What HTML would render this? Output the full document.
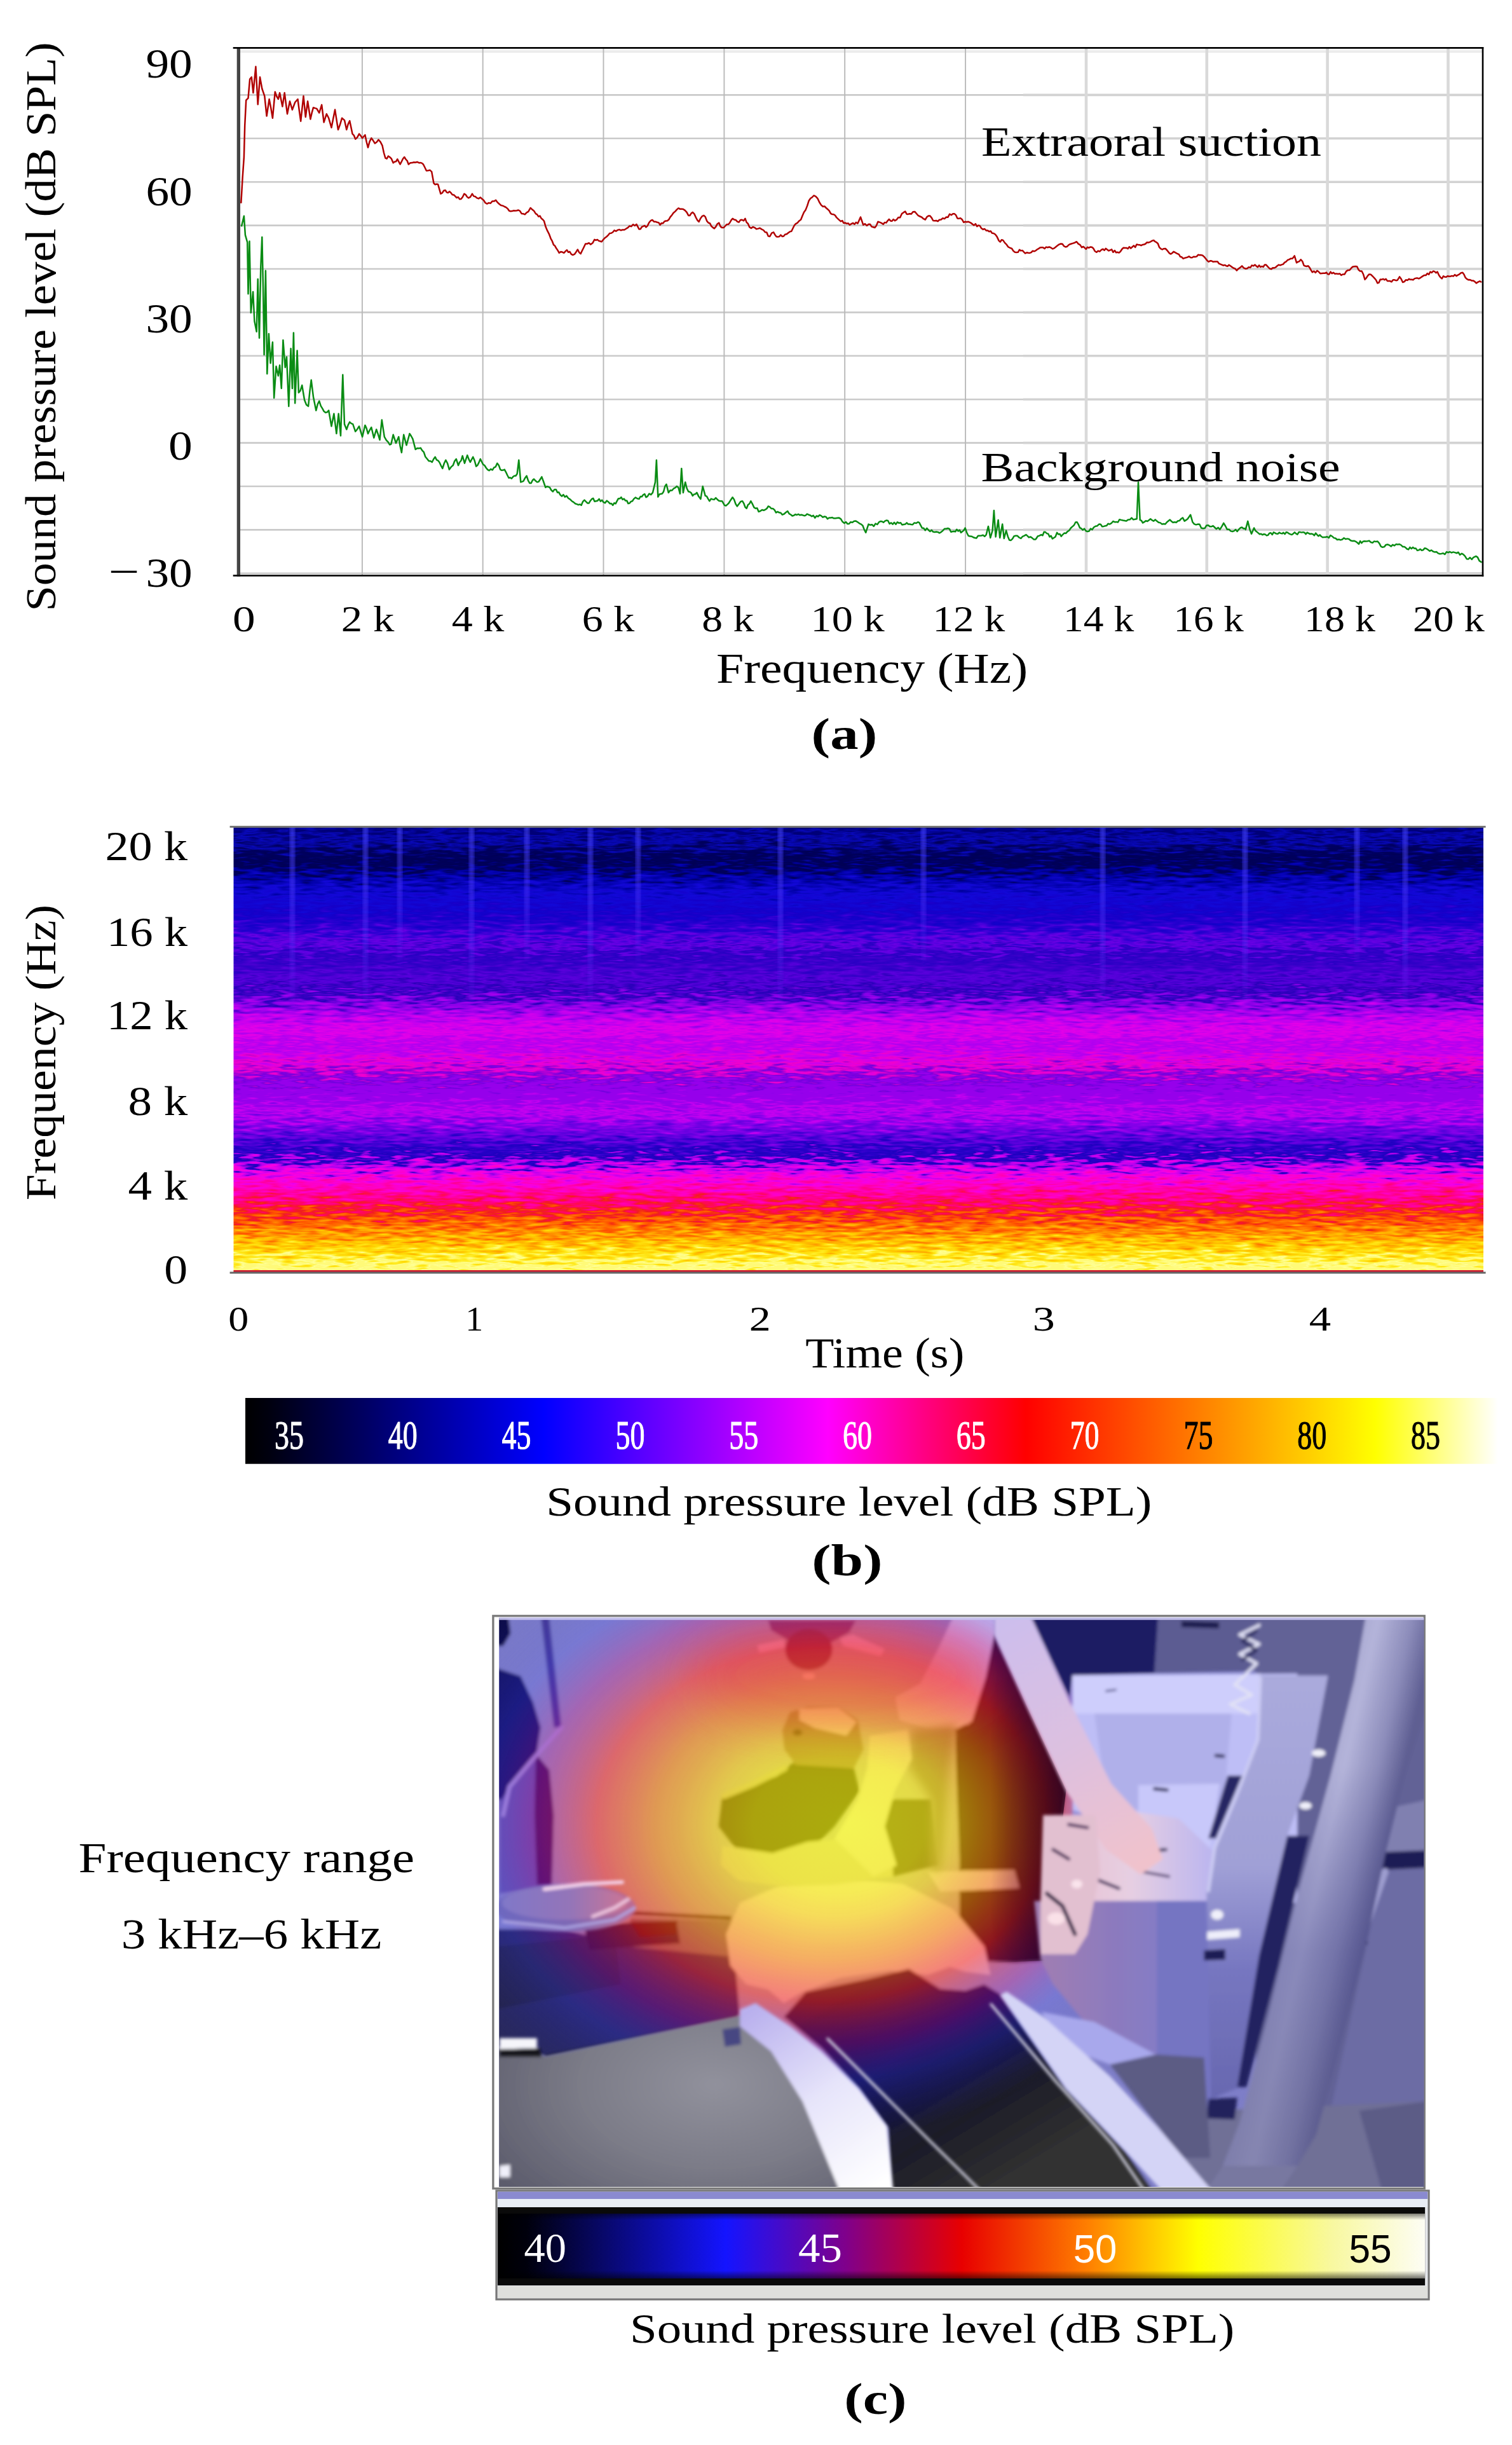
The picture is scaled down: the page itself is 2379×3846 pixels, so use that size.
<!DOCTYPE html>
<html lang="en"><head><meta charset="utf-8"><title>Figure</title>
<style>html,body{margin:0;padding:0;background:#fff}svg{display:block}</style></head>
<body>
<svg width="2379" height="3846" viewBox="0 0 2379 3846">
<rect width="100%" height="100%" fill="#fff"/>
<defs>
<linearGradient id="sg" gradientUnits="userSpaceOnUse" x1="0" y1="1200" x2="0" y2="2100">
<stop offset="0" stop-color="rgb(0,0,120)"/>
<stop offset="0.1115" stop-color="rgb(0, 0, 120)"/>
<stop offset="0.1327" stop-color="rgb(8, 8, 185)"/>
<stop offset="0.1589" stop-color="rgb(0, 0, 95)"/>
<stop offset="0.1785" stop-color="rgb(0, 0, 85)"/>
<stop offset="0.1982" stop-color="rgb(0, 0, 165)"/>
<stop offset="0.2309" stop-color="rgb(18, 8, 215)"/>
<stop offset="0.2636" stop-color="rgb(20, 0, 200)"/>
<stop offset="0.2898" stop-color="rgb(45, 0, 210)"/>
<stop offset="0.3159" stop-color="rgb(105, 0, 228)"/>
<stop offset="0.3356" stop-color="rgb(40, 0, 195)"/>
<stop offset="0.3617" stop-color="rgb(65, 0, 205)"/>
<stop offset="0.3781" stop-color="rgb(90, 0, 220)"/>
<stop offset="0.4010" stop-color="rgb(40, 0, 185)"/>
<stop offset="0.4206" stop-color="rgb(130, 0, 230)"/>
<stop offset="0.4468" stop-color="rgb(190, 0, 240)"/>
<stop offset="0.4697" stop-color="rgb(228, 0, 232)"/>
<stop offset="0.4926" stop-color="rgb(175, 0, 240)"/>
<stop offset="0.5122" stop-color="rgb(210, 0, 235)"/>
<stop offset="0.5286" stop-color="rgb(240, 0, 205)"/>
<stop offset="0.5515" stop-color="rgb(115, 0, 222)"/>
<stop offset="0.5646" stop-color="rgb(150, 0, 235)"/>
<stop offset="0.5908" stop-color="rgb(150, 0, 235)"/>
<stop offset="0.6104" stop-color="rgb(200, 0, 240)"/>
<stop offset="0.6300" stop-color="rgb(140, 0, 235)"/>
<stop offset="0.6562" stop-color="rgb(90, 0, 220)"/>
<stop offset="0.6758" stop-color="rgb(40, 0, 200)"/>
<stop offset="0.6889" stop-color="rgb(30, 0, 190)"/>
<stop offset="0.7020" stop-color="rgb(180, 0, 240)"/>
<stop offset="0.7216" stop-color="rgb(245, 0, 230)"/>
<stop offset="0.7413" stop-color="rgb(255, 0, 190)"/>
<stop offset="0.7609" stop-color="rgb(255, 0, 140)"/>
<stop offset="0.7740" stop-color="rgb(255, 10, 80)"/>
<stop offset="0.7838" stop-color="rgb(240, 30, 30)"/>
<stop offset="0.7969" stop-color="rgb(255, 80, 0)"/>
<stop offset="0.8133" stop-color="rgb(255, 120, 0)"/>
<stop offset="0.8296" stop-color="rgb(255, 170, 0)"/>
<stop offset="0.8460" stop-color="rgb(255, 210, 0)"/>
<stop offset="0.8623" stop-color="rgb(255, 235, 30)"/>
<stop offset="0.8787" stop-color="rgb(255, 255, 150)"/>
<stop offset="0.8852" stop-color="rgb(255, 250, 120)"/>
<stop offset="1" stop-color="rgb(255,250,120)"/>
</linearGradient>
<filter id="sn" x="0" y="0" width="100%" height="100%" filterUnits="objectBoundingBox" color-interpolation-filters="sRGB">
<feTurbulence type="fractalNoise" baseFrequency="0.034 0.21" numOctaves="2" seed="7" result="t"/>
<feDisplacementMap in="SourceGraphic" in2="t" scale="85" xChannelSelector="G" yChannelSelector="R"/>
</filter>
<clipPath id="sc"><rect x="367.5" y="1301.5" width="1966.5" height="699.5"/></clipPath>
<linearGradient id="vs" x1="0" y1="0" x2="0" y2="1"><stop offset="0" stop-color="#4a4aff" stop-opacity="0.6"/><stop offset="0.55" stop-color="#5a3cff" stop-opacity="0.38"/><stop offset="1" stop-color="#7a30ff" stop-opacity="0"/></linearGradient>
<filter id="b2"><feGaussianBlur stdDeviation="2.5 0.1"/></filter>
<linearGradient id="cb" x1="0" y1="0" x2="1" y2="0"><stop offset="0" stop-color="#000"/><stop offset="0.02" stop-color="#000010"/><stop offset="0.238" stop-color="#0000ff"/><stop offset="0.465" stop-color="#ff00ff"/><stop offset="0.623" stop-color="#ff0000"/><stop offset="0.902" stop-color="#ffff00"/><stop offset="1" stop-color="#fff"/></linearGradient>
</defs>
<line x1="378" y1="81.0" x2="2332" y2="81.0" stroke="#ececec" stroke-width="4"/>
<line x1="378" y1="149.4" x2="1610" y2="149.4" stroke="#cacaca" stroke-width="2.6"/>
<line x1="1610" y1="149.4" x2="2332" y2="149.4" stroke="#d2d2d2" stroke-width="3.6"/>
<line x1="378" y1="217.8" x2="1610" y2="217.8" stroke="#cacaca" stroke-width="2.6"/>
<line x1="1610" y1="217.8" x2="2332" y2="217.8" stroke="#d2d2d2" stroke-width="3.6"/>
<line x1="378" y1="286.2" x2="1610" y2="286.2" stroke="#cacaca" stroke-width="2.6"/>
<line x1="1610" y1="286.2" x2="2332" y2="286.2" stroke="#d2d2d2" stroke-width="3.6"/>
<line x1="378" y1="354.6" x2="1610" y2="354.6" stroke="#cacaca" stroke-width="2.6"/>
<line x1="1610" y1="354.6" x2="2332" y2="354.6" stroke="#d2d2d2" stroke-width="3.6"/>
<line x1="378" y1="423.0" x2="1610" y2="423.0" stroke="#cacaca" stroke-width="2.6"/>
<line x1="1610" y1="423.0" x2="2332" y2="423.0" stroke="#d2d2d2" stroke-width="3.6"/>
<line x1="378" y1="491.4" x2="1610" y2="491.4" stroke="#cacaca" stroke-width="2.6"/>
<line x1="1610" y1="491.4" x2="2332" y2="491.4" stroke="#d2d2d2" stroke-width="3.6"/>
<line x1="378" y1="559.8" x2="1610" y2="559.8" stroke="#cacaca" stroke-width="2.6"/>
<line x1="1610" y1="559.8" x2="2332" y2="559.8" stroke="#d2d2d2" stroke-width="3.6"/>
<line x1="378" y1="628.2" x2="1610" y2="628.2" stroke="#cacaca" stroke-width="2.6"/>
<line x1="1610" y1="628.2" x2="2332" y2="628.2" stroke="#d2d2d2" stroke-width="3.6"/>
<line x1="378" y1="696.6" x2="1610" y2="696.6" stroke="#cacaca" stroke-width="2.6"/>
<line x1="1610" y1="696.6" x2="2332" y2="696.6" stroke="#d2d2d2" stroke-width="3.6"/>
<line x1="378" y1="765.0" x2="1610" y2="765.0" stroke="#cacaca" stroke-width="2.6"/>
<line x1="1610" y1="765.0" x2="2332" y2="765.0" stroke="#d2d2d2" stroke-width="3.6"/>
<line x1="378" y1="833.4" x2="1610" y2="833.4" stroke="#cacaca" stroke-width="2.6"/>
<line x1="1610" y1="833.4" x2="2332" y2="833.4" stroke="#d2d2d2" stroke-width="3.6"/>
<line x1="378" y1="901.8" x2="1610" y2="901.8" stroke="#cacaca" stroke-width="2.6"/>
<line x1="1610" y1="901.8" x2="2332" y2="901.8" stroke="#d2d2d2" stroke-width="3.6"/>
<line x1="569.9" y1="76" x2="569.9" y2="905" stroke="#b9b9b9" stroke-width="1.9"/>
<line x1="759.7" y1="76" x2="759.7" y2="905" stroke="#b9b9b9" stroke-width="1.9"/>
<line x1="949.5" y1="76" x2="949.5" y2="905" stroke="#b9b9b9" stroke-width="1.9"/>
<line x1="1139.4" y1="76" x2="1139.4" y2="905" stroke="#b9b9b9" stroke-width="1.9"/>
<line x1="1329.2" y1="76" x2="1329.2" y2="905" stroke="#b9b9b9" stroke-width="1.9"/>
<line x1="1519.1" y1="76" x2="1519.1" y2="905" stroke="#b9b9b9" stroke-width="1.9"/>
<line x1="1709.0" y1="76" x2="1709.0" y2="905" stroke="#d9d9d9" stroke-width="4.6"/>
<line x1="1898.8" y1="76" x2="1898.8" y2="905" stroke="#d9d9d9" stroke-width="4.6"/>
<line x1="2088.6" y1="76" x2="2088.6" y2="905" stroke="#d9d9d9" stroke-width="4.6"/>
<line x1="2278.5" y1="76" x2="2278.5" y2="905" stroke="#d9d9d9" stroke-width="4.6"/>
<path d="M379.9,356.4 383.9,339.8 385.9,369.6 389.2,381.2 390.5,462.2 392.5,379.5 394.8,492.0 398.1,458.9 400.4,505.2 403.7,521.7 405.7,439.0 408.0,531.6 410.3,419.2 412.3,372.9 414.0,452.3 415.6,558.1 417.9,425.8 420.3,587.9 422.9,525.0 425.6,571.3 428.9,538.3 431.2,625.9 434.5,576.3 437.8,591.2 440.1,574.6 442.8,611.0 445.4,534.9 448.7,577.9 451.0,561.4 454.3,639.1 457.6,548.2 459.9,611.0 461.9,523.4 464.2,634.2 467.6,551.5 469.9,617.6 472.5,614.6 475.2,606.0 479.1,629.2 482.1,636.8 485.1,639.1 487.4,615.8 489.7,597.8 493.0,624.2 497.3,645.7 499.8,635.8 502.3,630.8 504.8,638.6 507.2,642.4 509.7,647.1 512.2,649.0 514.7,648.4 517.2,645.7 521.5,670.5 525.4,650.7 529.4,682.1 532.7,650.7 536.0,685.4 539.3,589.5 542.0,667.2 545.3,675.5 547.7,668.6 550.2,663.9 552.7,666.2 555.2,667.2 559.2,678.8 562.1,675.2 565.1,670.5 567.6,679.2 570.1,687.1 574.4,668.9 576.7,673.8 579.0,682.1 581.6,676.8 584.3,672.2 588.3,688.7 592.2,675.5 594.9,683.2 597.5,692.0 600.8,660.6 604.8,687.1 607.8,692.3 610.7,695.3 613.1,699.5 615.4,698.6 618.7,683.8 623.0,697.0 627.3,687.1 629.6,701.7 631.9,711.9 635.2,683.8 639.5,700.3 642.0,691.4 644.5,682.1 647.0,686.0 649.4,690.4 653.7,706.9 656.5,704.9 659.4,705.3 661.8,704.6 664.3,708.6 666.8,711.2 669.3,718.5 672.0,721.7 674.8,725.3 677.3,725.3 679.8,727.0 682.2,722.3 684.7,718.7 686.9,723.4 689.1,724.4 691.3,727.0 693.8,732.3 696.3,736.9 698.8,729.0 701.3,723.7 704.1,728.8 706.9,738.6 709.9,734.4 712.8,732.0 715.3,725.2 717.8,722.0 721.1,732.0 723.3,727.0 725.5,724.5 727.7,717.1 731.0,728.7 735.3,716.1 737.6,722.4 739.9,727.0 744.2,718.7 746.7,724.6 749.2,733.6 751.4,731.7 753.6,727.4 755.8,722.0 758.0,726.5 760.2,730.7 762.4,732.0 764.9,736.0 767.3,738.9 769.7,740.2 772.2,737.8 774.8,739.3 777.3,735.3 779.8,734.3 782.3,728.7 784.8,731.9 787.2,738.6 789.4,739.8 791.6,739.6 793.8,738.6 796.1,742.8 798.3,747.5 800.5,751.8 802.7,751.2 804.9,752.8 807.1,750.1 809.3,748.5 811.5,748.5 813.7,745.2 816.3,723.7 819.3,758.4 823.6,756.8 826.1,751.9 828.6,748.5 831.1,756.2 833.5,760.1 835.7,759.9 837.9,755.5 840.1,753.5 842.6,756.3 845.1,758.4 847.5,757.8 850.0,754.0 852.4,750.1 855.4,758.3 858.3,766.7 860.5,765.3 862.7,765.8 864.9,766.7 867.4,771.0 869.9,773.3 872.4,770.0 874.9,770.0 877.1,774.8 879.3,774.3 881.5,778.3 884.0,780.7 886.4,778.1 888.9,781.8 891.4,779.9 894.2,783.7 896.9,785.4 899.7,788.2 902.4,789.9 905.2,792.2 907.9,793.1 910.1,794.1 912.3,793.3 914.6,794.8 917.0,789.2 919.5,786.5 922.0,789.1 924.5,791.5 926.7,791.4 928.9,787.7 931.1,784.9 933.3,783.8 935.5,788.7 937.7,788.2 940.2,787.7 942.7,784.9 944.9,788.6 947.1,786.6 949.3,789.8 952.0,791.1 954.8,787.6 957.5,789.8 959.7,792.2 961.9,792.0 964.2,794.8 966.4,791.2 968.6,792.3 970.8,788.2 973.0,784.2 975.2,784.3 977.4,782.2 979.6,785.8 981.8,784.5 984.0,787.5 986.2,787.4 988.4,792.1 990.6,791.5 992.8,788.9 995.0,788.2 997.2,784.9 1000.0,782.5 1002.7,784.2 1005.5,784.9 1007.7,781.0 1009.9,781.3 1012.1,778.3 1014.3,777.1 1016.5,782.3 1018.7,780.9 1021.5,776.5 1024.2,778.1 1027.0,774.9 1031.0,758.4 1032.9,723.7 1035.3,781.6 1037.5,777.5 1039.7,777.0 1041.9,776.6 1044.1,773.2 1046.3,765.0 1048.5,761.7 1051.8,774.9 1054.5,771.2 1057.3,771.5 1060.1,768.3 1062.5,767.2 1064.9,764.9 1067.3,766.7 1070.0,776.6 1072.3,736.9 1074.9,774.9 1078.2,758.4 1080.7,768.3 1083.2,773.3 1085.4,773.8 1087.6,775.4 1089.8,779.9 1092.0,777.5 1094.2,777.2 1096.4,774.9 1099.4,781.1 1102.4,784.9 1105.7,765.0 1109.7,779.9 1111.9,780.7 1114.1,784.6 1116.3,788.2 1118.8,784.6 1121.2,785.4 1123.7,785.8 1126.2,783.2 1128.7,785.7 1131.2,787.7 1133.6,788.2 1136.1,788.2 1140.0,794.8 1142.2,795.5 1144.4,793.6 1146.6,791.5 1149.6,786.7 1152.6,782.2 1155.0,785.6 1157.4,792.5 1159.8,796.4 1162.6,792.8 1165.4,788.9 1168.1,788.2 1170.3,791.8 1172.5,797.8 1174.7,799.7 1176.9,794.0 1179.1,792.5 1181.3,788.2 1183.8,792.6 1186.3,798.1 1188.8,799.7 1191.3,799.3 1193.7,804.9 1196.2,804.0 1199.0,802.0 1201.7,802.8 1204.5,801.4 1206.7,799.7 1208.9,796.3 1211.1,797.4 1213.6,800.0 1216.1,800.1 1218.5,801.9 1221.0,806.4 1223.5,804.9 1226.0,806.3 1228.5,806.8 1230.9,809.7 1233.7,808.5 1236.5,806.0 1239.2,804.0 1241.7,808.1 1244.2,809.5 1246.6,811.5 1249.1,810.7 1251.4,809.1 1253.8,810.0 1256.1,808.8 1258.4,810.3 1260.7,809.7 1263.0,810.3 1265.3,811.2 1267.6,810.7 1270.0,808.5 1272.3,809.7 1274.8,810.5 1277.2,812.3 1279.7,810.9 1282.2,814.6 1284.7,811.5 1287.2,812.5 1289.6,810.2 1292.1,811.3 1294.6,813.7 1297.1,812.5 1299.6,813.0 1302.0,816.3 1304.5,814.4 1307.0,814.4 1309.5,814.1 1312.0,815.3 1314.7,815.2 1317.5,814.7 1320.2,814.6 1323.0,816.4 1325.7,820.8 1328.5,822.9 1331.0,821.0 1333.5,824.1 1335.9,824.0 1338.4,821.2 1341.2,821.8 1343.9,819.8 1346.7,819.6 1349.4,821.3 1352.2,823.3 1354.9,824.6 1357.4,826.7 1359.8,833.0 1362.2,837.8 1366.5,824.6 1369.3,825.8 1372.0,825.2 1374.8,827.9 1377.5,823.6 1380.3,825.0 1383.1,821.2 1385.4,820.0 1387.7,820.3 1390.0,821.8 1392.3,819.7 1394.6,818.6 1397.1,819.0 1399.6,824.0 1402.1,822.4 1404.6,824.6 1407.0,821.7 1409.5,824.7 1412.0,821.3 1414.5,822.9 1417.0,822.3 1419.4,825.4 1421.9,825.0 1424.4,824.6 1426.7,822.3 1429.0,824.6 1431.3,824.5 1433.7,825.0 1436.0,825.2 1438.7,822.4 1441.5,823.0 1444.2,821.2 1446.4,822.2 1448.6,826.3 1450.8,830.5 1453.3,830.7 1455.8,834.3 1458.3,830.9 1460.8,833.8 1463.2,835.9 1465.7,833.9 1468.2,836.6 1470.7,837.1 1473.2,836.6 1475.6,836.9 1478.1,838.4 1480.6,837.1 1483.4,834.8 1486.1,831.7 1488.9,831.8 1491.4,831.0 1493.8,831.9 1496.3,836.8 1498.8,836.1 1501.0,835.7 1503.2,836.2 1505.4,832.8 1507.6,835.4 1509.8,833.7 1512.0,837.8 1514.2,836.1 1516.4,834.3 1518.6,830.5 1521.1,837.7 1523.6,842.7 1526.1,843.6 1528.6,843.7 1531.0,845.0 1533.5,846.0 1536.3,846.4 1539.0,842.7 1541.8,842.7 1544.3,842.5 1546.7,841.8 1549.2,843.8 1551.7,841.1 1555.0,827.9 1558.3,846.0 1561.6,834.5 1563.9,803.1 1566.6,844.4 1570.6,817.9 1573.2,846.0 1577.2,824.6 1579.8,847.0 1583.1,834.5 1585.6,843.4 1588.1,849.4 1590.6,849.9 1593.0,847.7 1595.5,843.4 1598.0,842.7 1600.8,842.8 1603.5,845.5 1606.3,847.0 1609.0,843.8 1611.8,842.7 1614.5,841.1 1616.7,843.1 1618.9,845.4 1621.2,844.4 1623.9,846.1 1626.7,848.6 1629.4,848.4 1630.0,847.7 1632.8,843.5 1635.5,842.6 1638.3,841.1 1640.5,842.3 1642.7,836.7 1644.9,837.1 1647.1,839.1 1649.3,839.8 1651.5,844.4 1653.7,842.9 1655.9,847.5 1658.1,846.0 1660.6,844.4 1663.1,837.8 1665.3,840.5 1667.5,839.9 1669.7,843.7 1672.2,840.8 1674.6,838.6 1677.1,838.9 1679.6,836.1 1682.4,834.3 1685.1,830.3 1687.9,827.9 1690.1,825.8 1692.3,821.5 1694.5,821.2 1696.7,824.8 1698.9,830.1 1701.1,831.2 1703.6,833.7 1706.1,831.6 1708.5,835.0 1711.0,836.1 1713.5,835.5 1716.0,831.6 1718.5,833.1 1720.9,829.5 1723.7,827.7 1726.5,827.2 1729.2,824.6 1731.7,824.7 1734.2,828.3 1736.6,827.9 1739.1,827.2 1741.3,826.7 1743.5,823.7 1745.7,824.6 1748.5,823.2 1751.3,820.0 1754.0,821.2 1756.5,820.9 1759.0,821.5 1761.4,817.2 1763.9,817.9 1766.7,818.5 1769.4,819.0 1772.2,819.6 1775.0,817.5 1777.7,817.3 1780.5,814.6 1783.2,817.4 1786.0,816.8 1788.7,816.3 1791.0,758.4 1793.7,817.9 1795.9,818.9 1798.1,822.5 1800.3,821.2 1802.8,819.2 1805.3,820.0 1807.7,818.3 1810.2,816.3 1812.7,818.4 1815.2,819.7 1817.7,817.4 1820.1,819.6 1822.9,821.8 1825.7,822.4 1828.4,824.6 1830.9,824.1 1833.4,824.5 1835.9,821.5 1838.3,819.6 1840.8,817.6 1843.3,820.2 1845.8,821.9 1848.3,821.2 1850.7,821.9 1853.2,819.5 1855.7,819.1 1858.2,816.3 1860.9,814.4 1863.7,819.6 1866.4,817.9 1868.6,816.3 1870.9,813.0 1873.1,809.7 1876.4,821.2 1879.1,824.4 1881.9,825.4 1884.6,824.6 1887.4,824.8 1890.1,830.5 1892.9,831.2 1895.7,830.8 1898.4,826.4 1901.2,826.2 1903.6,828.3 1906.1,828.3 1908.6,827.1 1911.1,829.5 1913.8,832.1 1916.6,829.9 1919.4,832.8 1922.3,828.4 1925.3,822.9 1928.1,827.5 1930.9,832.8 1933.7,832.7 1936.4,835.4 1939.2,836.1 1941.7,835.1 1944.2,833.0 1946.6,836.0 1949.1,832.8 1951.6,830.3 1954.1,829.5 1956.6,831.5 1959.0,831.2 1959.8,833.1 1963.3,819.9 1966.5,833.1 1969.1,839.7 1973.1,830.5 1975.3,834.8 1977.5,836.6 1979.7,838.4 1981.9,840.3 1984.1,839.7 1986.3,841.3 1988.5,840.2 1990.7,840.6 1992.9,842.4 1995.1,841.7 1997.3,838.7 1999.5,838.3 2001.7,841.0 2003.9,837.4 2006.1,838.4 2008.3,839.6 2010.5,839.7 2012.8,837.7 2015.0,838.9 2017.2,839.4 2019.4,837.9 2021.6,840.2 2023.8,837.1 2026.0,837.8 2028.2,839.4 2030.4,840.4 2032.6,841.1 2034.8,839.4 2037.0,837.3 2039.2,839.4 2041.4,840.7 2043.6,837.1 2045.8,837.1 2048.0,837.6 2050.2,837.1 2052.4,837.7 2054.6,840.2 2056.8,837.7 2059.0,838.9 2061.3,840.0 2063.5,839.6 2065.7,840.2 2067.9,842.4 2070.1,838.6 2072.3,841.1 2074.5,843.3 2076.7,841.4 2078.9,843.8 2081.1,845.2 2083.3,845.1 2085.5,845.0 2088.1,844.2 2090.8,846.1 2093.4,842.0 2096.1,843.7 2098.7,846.1 2101.4,846.7 2104.0,849.0 2106.7,848.5 2109.3,849.4 2112.0,848.5 2114.6,846.3 2117.2,848.0 2119.9,847.4 2122.5,848.0 2125.2,850.3 2127.8,851.0 2130.5,850.7 2133.1,851.8 2135.8,853.8 2138.0,855.7 2140.2,851.1 2142.4,854.3 2144.6,851.7 2146.8,851.3 2149.0,851.6 2151.6,851.3 2154.3,850.6 2156.9,853.0 2159.6,853.8 2162.2,851.4 2164.9,852.1 2167.5,851.6 2170.2,854.6 2172.8,859.6 2175.4,860.8 2178.1,860.1 2180.7,856.9 2183.4,856.4 2186.0,857.6 2188.7,859.5 2191.3,856.9 2194.0,858.3 2196.6,856.1 2199.3,856.5 2201.9,856.1 2204.6,857.5 2206.9,859.9 2209.2,859.9 2211.5,861.3 2213.8,863.5 2216.1,864.4 2218.4,860.9 2220.8,863.1 2223.1,860.9 2225.4,862.7 2227.7,862.6 2230.0,865.9 2232.3,865.4 2234.6,863.8 2237.0,865.7 2239.3,865.1 2241.6,862.2 2244.2,863.0 2246.9,864.8 2249.5,866.8 2252.2,865.4 2254.8,867.5 2257.5,868.4 2260.1,868.0 2262.8,870.4 2265.4,871.3 2268.0,870.9 2270.7,870.2 2273.3,872.0 2276.0,868.1 2278.6,869.2 2281.3,868.0 2283.9,869.4 2286.6,868.4 2289.2,869.1 2291.9,870.2 2294.5,868.7 2297.1,872.8 2299.8,870.7 2302.4,872.1 2305.1,874.9 2307.7,879.2 2310.4,879.4 2313.0,877.0 2315.7,880.0 2318.3,876.8 2322.3,874.9 2324.9,876.6 2327.6,882.1 2331.5,884.7" fill="none" stroke="#0a8c14" stroke-width="2.5" stroke-linejoin="round"/>
<path d="M379.3,319.7 381.6,280.0 383.9,247.0 385.2,197.4 387.2,157.7 390.5,154.4 393.1,124.6 395.8,121.3 398.4,146.1 402.4,104.8 405.7,164.3 409.0,121.3 412.3,139.5 416.3,151.1 419.6,182.5 423.6,156.0 426.2,169.4 428.9,185.8 432.8,144.4 435.3,151.6 437.8,156.0 440.1,146.1 444.4,167.6 447.7,146.1 452.0,179.2 456.0,159.3 459.9,172.6 464.2,161.0 468.5,156.0 470.9,174.4 473.2,190.7 477.5,151.1 480.8,184.1 484.1,159.3 488.4,187.4 490.7,177.4 493.0,169.2 495.7,170.1 498.3,170.9 502.3,177.5 506.2,164.9 509.6,192.4 513.8,179.2 517.2,185.8 521.5,200.7 524.3,186.4 527.1,172.6 529.6,188.9 532.0,204.0 535.0,196.0 538.0,185.8 542.0,189.1 545.3,204.0 547.7,195.4 550.2,190.1 554.5,210.6 556.8,212.8 559.2,218.8 562.1,216.1 565.1,210.6 567.6,213.6 570.1,217.2 574.4,212.2 576.7,223.2 579.0,232.1 581.6,222.6 584.3,217.2 587.1,221.1 589.9,225.5 592.7,223.5 595.5,219.8 598.5,223.2 601.5,228.8 604.0,240.5 606.4,248.6 608.6,249.7 610.9,245.6 613.1,247.0 615.9,249.7 618.7,256.2 620.9,254.4 623.1,254.0 625.3,250.3 629.6,258.5 631.8,254.2 634.0,249.7 636.2,247.0 638.4,250.5 640.6,252.8 642.8,258.5 645.6,256.3 648.3,256.1 651.1,255.2 653.8,255.5 656.6,254.8 659.4,256.2 661.6,255.9 663.8,256.6 666.0,258.5 668.4,263.3 670.9,268.5 673.7,268.2 676.4,267.6 679.2,270.1 682.5,288.3 684.7,290.2 686.9,289.6 689.1,289.9 693.4,304.8 695.8,303.5 698.3,299.8 700.7,299.2 702.9,302.6 705.1,303.2 707.3,301.2 709.5,303.3 711.7,306.2 713.9,306.5 716.2,308.7 718.5,311.0 720.9,310.1 723.2,313.2 725.5,313.1 728.0,309.7 730.4,304.8 732.7,306.2 734.9,309.6 737.1,311.4 740.0,309.8 743.0,304.8 745.4,308.6 747.9,309.3 750.3,311.4 753.0,312.4 755.8,310.5 758.6,313.1 761.0,314.9 763.5,319.0 766.3,320.6 769.0,319.1 771.8,319.7 774.5,316.6 777.3,316.6 780.1,314.7 782.8,318.4 785.6,321.0 788.3,323.0 791.1,323.6 793.8,325.0 796.6,326.3 798.8,328.3 801.0,331.5 803.2,332.3 805.7,332.1 808.2,331.3 810.6,331.5 813.1,331.3 815.6,330.5 818.1,331.8 820.6,335.9 823.0,336.2 825.8,337.3 828.6,334.4 831.3,332.9 834.6,327.0 837.4,329.6 840.1,331.7 842.9,336.2 845.1,337.4 847.3,340.6 849.5,339.6 851.7,343.5 853.9,345.2 856.1,347.8 858.6,356.8 861.1,362.7 863.8,367.8 866.6,375.3 868.8,379.2 871.0,385.0 873.2,386.8 875.4,390.8 877.6,393.9 879.8,397.8 882.3,396.1 884.8,396.6 887.3,397.8 889.8,395.1 892.0,393.2 894.2,396.8 896.4,395.8 898.9,399.8 901.3,401.1 903.9,399.9 906.4,396.4 908.9,392.5 911.3,397.1 913.6,399.1 916.1,394.0 918.6,389.0 921.2,383.5 923.9,383.5 926.7,382.2 929.4,384.5 932.4,382.3 935.4,376.9 937.6,377.9 939.9,376.9 942.1,378.9 944.4,379.5 946.6,380.2 949.2,376.9 951.7,374.3 954.2,372.5 956.7,370.2 959.2,367.0 961.7,366.7 964.2,365.2 966.6,362.4 969.1,363.7 971.8,361.9 974.4,361.1 977.1,362.3 979.7,361.4 982.4,361.5 985.2,359.7 987.9,358.2 990.6,355.4 993.3,356.2 996.1,353.0 998.8,354.9 1001.5,352.8 1005.5,360.4 1007.7,360.3 1009.9,356.9 1012.1,355.8 1014.3,354.9 1016.5,357.4 1018.7,355.4 1021.2,350.2 1023.7,347.2 1026.4,346.0 1029.2,348.8 1032.0,348.8 1034.2,349.8 1036.4,350.2 1038.6,353.8 1040.9,350.9 1043.2,351.2 1045.5,348.3 1047.8,347.5 1050.1,347.2 1052.4,345.3 1054.6,341.4 1056.8,338.9 1059.5,335.0 1062.3,332.6 1065.0,329.6 1067.5,327.4 1070.0,328.8 1072.5,328.8 1074.9,329.0 1077.7,330.9 1080.5,333.9 1083.2,338.9 1085.4,339.0 1087.6,335.6 1089.8,333.9 1092.3,336.4 1094.8,341.8 1097.3,346.5 1099.7,348.8 1102.3,343.4 1104.8,340.1 1107.4,338.9 1109.8,341.2 1112.2,347.6 1114.6,350.5 1116.9,351.2 1119.3,355.8 1121.6,357.9 1123.9,359.4 1126.3,356.6 1128.7,352.2 1131.2,350.5 1133.6,356.4 1136.1,358.1 1138.6,358.1 1141.1,355.5 1143.6,352.9 1146.0,352.8 1148.2,350.5 1150.5,346.4 1152.7,343.8 1155.1,345.6 1157.6,345.9 1160.1,348.6 1162.6,349.5 1165.1,346.1 1167.5,345.8 1170.0,347.3 1172.5,343.8 1174.7,349.9 1176.9,351.8 1179.1,357.1 1181.9,359.0 1184.6,356.9 1187.4,358.1 1190.1,360.2 1192.9,359.6 1195.6,358.7 1198.4,360.6 1201.2,362.0 1203.9,365.3 1206.3,365.4 1208.8,371.4 1211.2,372.0 1214.2,366.6 1217.1,365.3 1219.3,369.2 1221.6,372.2 1223.8,372.6 1226.1,372.1 1228.4,369.6 1230.7,371.9 1233.0,371.5 1235.3,368.7 1237.8,368.3 1240.3,366.2 1242.8,364.4 1245.3,363.7 1247.5,359.2 1249.7,354.7 1251.9,352.1 1254.6,350.7 1257.4,347.4 1260.1,345.5 1262.6,339.2 1265.0,333.8 1267.4,330.6 1270.1,323.9 1272.7,315.7 1275.3,312.1 1278.0,310.2 1280.6,307.5 1283.6,309.2 1286.6,312.4 1289.3,318.3 1292.1,322.6 1294.9,325.0 1297.3,324.5 1299.8,327.0 1302.3,329.2 1304.8,331.6 1307.1,335.9 1309.4,337.1 1311.7,337.3 1314.0,338.8 1316.3,342.2 1318.6,344.3 1320.8,346.4 1323.0,348.2 1325.2,347.0 1327.4,350.8 1329.6,350.5 1332.1,351.7 1334.5,351.2 1337.0,353.8 1339.5,352.1 1342.0,350.8 1344.5,352.8 1346.9,349.8 1349.4,351.5 1350.0,350.5 1354.0,341.5 1358.3,353.8 1361.0,352.0 1363.8,354.9 1366.5,352.8 1369.0,352.8 1371.5,356.6 1374.0,357.2 1376.5,358.1 1378.9,354.9 1381.4,348.8 1384.2,349.6 1386.9,350.8 1389.7,352.8 1392.0,349.9 1394.3,350.4 1396.6,347.3 1398.9,344.8 1401.2,347.4 1403.4,347.7 1405.6,345.0 1407.9,347.2 1410.6,345.7 1413.4,342.1 1416.1,342.2 1419.1,336.0 1422.1,333.9 1424.3,332.6 1426.6,336.7 1428.8,336.9 1431.0,336.2 1433.8,336.6 1436.5,333.3 1439.3,332.9 1442.0,336.0 1444.8,339.2 1447.6,340.5 1450.3,341.7 1453.1,344.2 1455.8,345.5 1458.3,341.3 1460.8,339.6 1463.3,339.6 1465.7,342.3 1468.2,347.0 1470.7,347.2 1473.2,347.0 1475.7,348.2 1478.1,345.7 1480.6,345.5 1483.4,343.2 1486.1,344.1 1488.9,341.5 1491.5,341.7 1494.2,336.7 1496.8,338.3 1499.5,336.2 1501.8,336.3 1504.1,338.4 1506.4,343.6 1508.7,343.8 1511.2,343.1 1513.7,345.2 1516.2,349.7 1518.7,348.8 1521.0,349.3 1523.3,348.7 1525.6,349.7 1527.9,350.8 1530.2,352.8 1532.5,354.4 1534.9,352.1 1537.2,356.2 1539.5,354.4 1541.8,355.4 1544.3,359.3 1546.8,360.9 1549.2,360.0 1551.7,362.7 1554.0,362.5 1556.3,364.3 1558.7,363.5 1561.0,366.8 1563.3,367.0 1566.0,368.8 1568.8,372.6 1571.6,378.6 1573.8,380.5 1576.0,377.2 1578.2,377.9 1580.9,381.9 1583.7,384.7 1586.4,388.5 1589.2,389.9 1592.0,391.0 1594.7,395.1 1597.0,396.8 1599.3,396.9 1601.7,396.8 1604.0,392.9 1606.3,394.4 1608.6,393.9 1610.9,396.3 1613.2,398.5 1615.5,397.3 1617.9,397.8 1620.2,397.9 1622.5,397.1 1624.8,394.7 1627.1,395.3 1629.4,394.4 1631.7,392.5 1634.1,391.2 1636.4,389.4 1638.7,389.2 1641.0,389.2 1643.5,391.1 1646.0,388.6 1648.4,389.3 1650.9,388.5 1653.7,389.7 1656.4,391.5 1659.2,390.1 1661.7,388.0 1664.2,386.0 1666.6,384.4 1669.1,383.5 1671.6,383.8 1674.1,387.2 1676.6,388.5 1679.0,387.8 1681.2,385.5 1683.4,384.2 1685.6,383.5 1688.4,382.6 1691.2,381.7 1693.9,380.2 1696.7,383.6 1699.4,385.1 1702.2,389.2 1704.4,387.9 1706.6,389.8 1708.8,391.8 1711.0,388.8 1713.2,389.8 1715.4,388.5 1717.9,388.7 1720.4,390.8 1722.9,395.3 1725.3,396.8 1727.8,394.6 1730.3,395.6 1732.8,393.0 1735.3,391.8 1737.6,393.7 1739.9,390.9 1742.2,392.8 1744.5,394.4 1746.8,393.5 1749.1,392.3 1751.5,396.8 1753.8,394.0 1756.1,397.3 1758.4,396.8 1760.7,397.6 1763.0,395.5 1765.3,392.0 1767.7,389.7 1770.0,390.1 1772.3,389.9 1774.6,391.3 1776.9,388.2 1779.2,390.6 1781.5,388.5 1783.9,386.3 1786.2,389.0 1788.5,384.4 1790.8,385.0 1793.1,385.2 1795.4,386.2 1797.8,384.9 1800.1,384.6 1802.4,383.5 1804.7,381.2 1807.5,381.4 1810.2,380.3 1813.0,378.6 1815.2,378.0 1817.4,380.0 1819.6,381.2 1821.8,383.0 1824.0,388.8 1826.2,391.1 1828.7,392.5 1831.2,391.2 1833.6,391.0 1836.1,393.5 1840.0,398.4 1842.2,399.6 1844.4,398.0 1846.6,395.8 1849.4,397.4 1852.1,398.8 1854.9,400.1 1857.1,403.8 1859.3,404.3 1861.5,406.7 1863.8,405.9 1866.1,405.3 1868.4,404.6 1870.8,403.3 1873.1,405.0 1875.5,405.3 1878.0,403.8 1880.5,404.1 1883.0,403.4 1885.2,400.7 1887.4,401.2 1889.6,401.1 1892.1,401.7 1894.6,403.9 1897.0,406.7 1899.5,410.0 1901.8,411.8 1904.2,410.2 1906.5,410.5 1908.8,411.8 1911.1,411.6 1913.4,411.5 1915.7,411.5 1918.0,414.7 1920.4,415.6 1922.7,416.6 1924.9,417.5 1927.1,416.9 1929.3,418.2 1931.5,418.7 1933.7,416.8 1935.9,418.3 1938.4,420.1 1940.9,421.8 1943.3,422.5 1945.8,425.5 1948.6,422.7 1951.3,420.9 1954.1,418.3 1956.8,421.4 1959.6,422.7 1962.4,422.2 1964.8,420.2 1967.3,420.9 1969.8,417.3 1972.3,418.3 1974.5,416.5 1976.7,418.5 1978.9,420.2 1981.1,417.2 1983.3,420.0 1985.5,418.9 1987.7,419.8 1989.9,416.5 1992.1,416.6 1994.9,419.7 1997.6,422.5 2000.4,423.2 2002.7,421.3 2005.0,421.5 2007.3,420.3 2009.6,418.3 2012.0,416.6 2014.3,417.2 2016.6,416.4 2018.9,415.6 2021.2,412.9 2023.5,411.6 2026.0,409.0 2028.5,408.1 2031.0,406.7 2033.5,406.7 2036.8,402.4 2040.1,413.3 2042.3,411.9 2044.5,411.1 2046.7,408.3 2049.2,411.0 2051.6,417.6 2053.8,418.6 2056.0,419.0 2058.3,418.3 2060.5,420.9 2062.7,424.9 2064.9,428.2 2067.3,426.5 2069.8,428.9 2072.3,425.7 2074.8,427.5 2077.3,430.2 2079.7,430.0 2082.2,429.8 2084.7,429.8 2086.9,428.6 2089.1,431.3 2091.3,431.4 2093.5,427.6 2095.7,430.2 2097.9,428.8 2100.4,430.8 2102.9,430.4 2105.4,431.0 2107.9,430.4 2110.3,432.9 2112.8,431.5 2115.6,431.4 2118.3,426.6 2121.1,424.9 2123.4,425.0 2125.7,422.2 2128.0,419.8 2130.3,419.3 2132.7,418.9 2135.1,419.2 2137.6,424.5 2140.1,426.6 2142.6,426.5 2145.1,431.5 2147.5,439.7 2149.7,437.4 2151.9,433.8 2154.2,431.5 2156.9,431.8 2159.7,434.5 2162.4,437.4 2164.9,440.3 2167.4,445.4 2169.6,444.6 2171.8,439.4 2174.0,439.7 2176.2,438.8 2178.4,440.3 2180.6,438.8 2182.8,441.9 2185.0,442.1 2187.2,442.1 2189.5,443.3 2191.9,440.2 2194.2,440.3 2196.5,441.2 2198.8,440.7 2202.1,435.4 2204.6,438.8 2207.1,444.0 2209.5,443.1 2212.0,440.3 2214.5,440.9 2217.0,438.8 2219.2,439.8 2221.4,439.7 2223.6,440.2 2225.8,438.1 2228.0,437.6 2230.2,437.4 2232.4,438.3 2234.6,437.2 2236.8,435.6 2239.0,434.1 2241.2,432.9 2243.4,433.1 2245.8,430.1 2248.1,431.8 2250.4,427.5 2252.7,428.9 2255.0,426.5 2257.2,427.1 2259.4,429.2 2261.6,427.5 2264.1,433.1 2266.6,436.4 2268.8,438.2 2271.0,434.3 2273.2,435.6 2275.4,435.7 2277.6,434.2 2279.8,434.8 2282.1,434.7 2284.4,433.9 2286.8,434.5 2289.1,432.1 2291.4,434.1 2293.9,432.6 2296.3,431.3 2298.8,429.3 2301.3,428.8 2303.5,431.7 2305.7,436.7 2307.9,438.8 2310.4,440.2 2312.9,440.0 2315.4,441.4 2317.8,441.4 2320.3,442.8 2322.8,445.4 2325.6,443.6 2328.3,442.3 2331.1,444.0" fill="none" stroke="#b00000" stroke-width="2.5" stroke-linejoin="round"/>
<rect x="372.7" y="74" width="5.3" height="833" fill="#444"/>
<rect x="366.7" y="74" width="1967.6" height="2.7" fill="#000"/>
<rect x="2331.7" y="74" width="2.6" height="833" fill="#000"/>
<rect x="366.7" y="904" width="1967.6" height="2.8" fill="#111"/>
<text x="229.4" y="122.0" font-size="66" font-family="'Liberation Serif', serif" fill="#000" textLength="73.3" lengthAdjust="spacingAndGlyphs" >90</text>
<text x="229.4" y="322.5" font-size="66" font-family="'Liberation Serif', serif" fill="#000" textLength="73.3" lengthAdjust="spacingAndGlyphs" >60</text>
<text x="229.4" y="522.5" font-size="66" font-family="'Liberation Serif', serif" fill="#000" textLength="73.3" lengthAdjust="spacingAndGlyphs" >30</text>
<text x="264.9" y="722.5" font-size="66" font-family="'Liberation Serif', serif" fill="#000" textLength="37.8" lengthAdjust="spacingAndGlyphs" >0</text>
<text x="229.4" y="922.5" font-size="66" font-family="'Liberation Serif', serif" fill="#000" textLength="73.3" lengthAdjust="spacingAndGlyphs" >30</text>
<text x="170.5" y="921.2" font-size="66" font-family="'Liberation Serif', serif" fill="#000" textLength="49" lengthAdjust="spacingAndGlyphs" >−</text>
<text x="87" y="961.5" font-size="68" font-family="'Liberation Serif', serif" fill="#000" textLength="895" lengthAdjust="spacingAndGlyphs" transform="rotate(-90 87 961.5)" >Sound pressure level (dB SPL)</text>
<text x="366.1" y="993" font-size="56" font-family="'Liberation Serif', serif" fill="#000" textLength="35.6" lengthAdjust="spacingAndGlyphs" >0</text>
<text x="536.8" y="993" font-size="56" font-family="'Liberation Serif', serif" fill="#000" textLength="83.5" lengthAdjust="spacingAndGlyphs" >2 k</text>
<text x="710.8" y="993" font-size="56" font-family="'Liberation Serif', serif" fill="#000" textLength="82.5" lengthAdjust="spacingAndGlyphs" >4 k</text>
<text x="915.8" y="993" font-size="56" font-family="'Liberation Serif', serif" fill="#000" textLength="82.5" lengthAdjust="spacingAndGlyphs" >6 k</text>
<text x="1104.3" y="993" font-size="56" font-family="'Liberation Serif', serif" fill="#000" textLength="82.0" lengthAdjust="spacingAndGlyphs" >8 k</text>
<text x="1275.5" y="993" font-size="56" font-family="'Liberation Serif', serif" fill="#000" textLength="116.1" lengthAdjust="spacingAndGlyphs" >10 k</text>
<text x="1467.5" y="993" font-size="56" font-family="'Liberation Serif', serif" fill="#000" textLength="113.6" lengthAdjust="spacingAndGlyphs" >12 k</text>
<text x="1673.1" y="993" font-size="56" font-family="'Liberation Serif', serif" fill="#000" textLength="111.1" lengthAdjust="spacingAndGlyphs" >14 k</text>
<text x="1846.5" y="993" font-size="56" font-family="'Liberation Serif', serif" fill="#000" textLength="110.3" lengthAdjust="spacingAndGlyphs" >16 k</text>
<text x="2052.1" y="993" font-size="56" font-family="'Liberation Serif', serif" fill="#000" textLength="112.0" lengthAdjust="spacingAndGlyphs" >18 k</text>
<text x="2223.0" y="993" font-size="56" font-family="'Liberation Serif', serif" fill="#000" textLength="112.8" lengthAdjust="spacingAndGlyphs" >20 k</text>
<text x="1126.9" y="1074" font-size="67" font-family="'Liberation Serif', serif" fill="#000" textLength="490.2" lengthAdjust="spacingAndGlyphs" >Frequency (Hz)</text>
<text x="1276.6" y="1177.5" font-size="70" font-family="'Liberation Serif', serif" fill="#000" font-weight="bold" textLength="103.7" lengthAdjust="spacingAndGlyphs" >(a)</text>
<text x="1544.0" y="245" font-size="66" font-family="'Liberation Serif', serif" fill="#000" textLength="535.0" lengthAdjust="spacingAndGlyphs" >Extraoral suction</text>
<text x="1543.4" y="756.8" font-size="66" font-family="'Liberation Serif', serif" fill="#000" textLength="565.3" lengthAdjust="spacingAndGlyphs" >Background noise</text>
<g clip-path="url(#sc)">
<rect x="300" y="1240" width="2100" height="830" fill="url(#sg)" filter="url(#sn)"/>
<rect x="456" y="1301" width="8" height="300" fill="url(#vs)" filter="url(#b2)"/>
<rect x="571" y="1301" width="8" height="300" fill="url(#vs)" filter="url(#b2)"/>
<rect x="625" y="1301" width="8" height="230" fill="url(#vs)" filter="url(#b2)"/>
<rect x="738" y="1301" width="8" height="300" fill="url(#vs)" filter="url(#b2)"/>
<rect x="825" y="1301" width="8" height="230" fill="url(#vs)" filter="url(#b2)"/>
<rect x="925" y="1301" width="8" height="300" fill="url(#vs)" filter="url(#b2)"/>
<rect x="1000" y="1301" width="8" height="230" fill="url(#vs)" filter="url(#b2)"/>
<rect x="1224" y="1301" width="8" height="300" fill="url(#vs)" filter="url(#b2)"/>
<rect x="1449" y="1301" width="8" height="230" fill="url(#vs)" filter="url(#b2)"/>
<rect x="1731" y="1301" width="8" height="300" fill="url(#vs)" filter="url(#b2)"/>
<rect x="1955" y="1301" width="8" height="300" fill="url(#vs)" filter="url(#b2)"/>
<rect x="2131" y="1301" width="8" height="230" fill="url(#vs)" filter="url(#b2)"/>
<rect x="2207" y="1301" width="8" height="300" fill="url(#vs)" filter="url(#b2)"/>
<rect x="367" y="1998" width="1968" height="3.5" fill="#d01830"/>
</g>
<rect x="361.6" y="1299" width="1976" height="3" fill="#777"/>
<rect x="361.6" y="2000.5" width="1976" height="3" fill="#666"/>
<text x="165.4" y="1352.8" font-size="65" font-family="'Liberation Serif', serif" fill="#000" textLength="129.8" lengthAdjust="spacingAndGlyphs" >20 k</text>
<text x="168.0" y="1487.5" font-size="65" font-family="'Liberation Serif', serif" fill="#000" textLength="127.2" lengthAdjust="spacingAndGlyphs" >16 k</text>
<text x="168.0" y="1619.4" font-size="65" font-family="'Liberation Serif', serif" fill="#000" textLength="127.2" lengthAdjust="spacingAndGlyphs" >12 k</text>
<text x="201.4" y="1753.8" font-size="65" font-family="'Liberation Serif', serif" fill="#000" textLength="93.8" lengthAdjust="spacingAndGlyphs" >8 k</text>
<text x="201.4" y="1887.4" font-size="65" font-family="'Liberation Serif', serif" fill="#000" textLength="93.8" lengthAdjust="spacingAndGlyphs" >4 k</text>
<text x="258.3" y="2018.6" font-size="65" font-family="'Liberation Serif', serif" fill="#000" textLength="36.9" lengthAdjust="spacingAndGlyphs" >0</text>
<text x="87.2" y="1888" font-size="68" font-family="'Liberation Serif', serif" fill="#000" textLength="465" lengthAdjust="spacingAndGlyphs" transform="rotate(-90 87.2 1888)" >Frequency (Hz)</text>
<text x="359.2" y="2093" font-size="55" font-family="'Liberation Serif', serif" fill="#000" textLength="32.0" lengthAdjust="spacingAndGlyphs" >0</text>
<text x="732.2" y="2093" font-size="55" font-family="'Liberation Serif', serif" fill="#000" textLength="28.0" lengthAdjust="spacingAndGlyphs" >1</text>
<text x="1178.8" y="2093" font-size="55" font-family="'Liberation Serif', serif" fill="#000" textLength="34.0" lengthAdjust="spacingAndGlyphs" >2</text>
<text x="1624.8" y="2093" font-size="55" font-family="'Liberation Serif', serif" fill="#000" textLength="35.0" lengthAdjust="spacingAndGlyphs" >3</text>
<text x="2059.8" y="2093" font-size="55" font-family="'Liberation Serif', serif" fill="#000" textLength="34.4" lengthAdjust="spacingAndGlyphs" >4</text>
<text x="1267.3" y="2150.8" font-size="67" font-family="'Liberation Serif', serif" fill="#000" textLength="250.0" lengthAdjust="spacingAndGlyphs" >Time (s)</text>
<rect x="386" y="2199" width="1971" height="103.7" fill="url(#cb)"/>
<text x="455.0" y="2279" font-size="64" font-family="'Liberation Serif', serif" fill="#fff" text-anchor="middle" textLength="46" lengthAdjust="spacingAndGlyphs" stroke="#fff" stroke-width="1.1">35</text>
<text x="633.8" y="2279" font-size="64" font-family="'Liberation Serif', serif" fill="#fff" text-anchor="middle" textLength="46" lengthAdjust="spacingAndGlyphs" stroke="#fff" stroke-width="1.1">40</text>
<text x="812.6" y="2279" font-size="64" font-family="'Liberation Serif', serif" fill="#fff" text-anchor="middle" textLength="46" lengthAdjust="spacingAndGlyphs" stroke="#fff" stroke-width="1.1">45</text>
<text x="991.4000000000001" y="2279" font-size="64" font-family="'Liberation Serif', serif" fill="#fff" text-anchor="middle" textLength="46" lengthAdjust="spacingAndGlyphs" stroke="#fff" stroke-width="1.1">50</text>
<text x="1170.2" y="2279" font-size="64" font-family="'Liberation Serif', serif" fill="#fff" text-anchor="middle" textLength="46" lengthAdjust="spacingAndGlyphs" stroke="#fff" stroke-width="1.1">55</text>
<text x="1349.0" y="2279" font-size="64" font-family="'Liberation Serif', serif" fill="#fff" text-anchor="middle" textLength="46" lengthAdjust="spacingAndGlyphs" stroke="#fff" stroke-width="1.1">60</text>
<text x="1527.8000000000002" y="2279" font-size="64" font-family="'Liberation Serif', serif" fill="#fff" text-anchor="middle" textLength="46" lengthAdjust="spacingAndGlyphs" stroke="#fff" stroke-width="1.1">65</text>
<text x="1706.6000000000001" y="2279" font-size="64" font-family="'Liberation Serif', serif" fill="#fff" text-anchor="middle" textLength="46" lengthAdjust="spacingAndGlyphs" stroke="#fff" stroke-width="1.1">70</text>
<text x="1885.4" y="2279" font-size="64" font-family="'Liberation Serif', serif" fill="#000" text-anchor="middle" textLength="46" lengthAdjust="spacingAndGlyphs" stroke="#000" stroke-width="1.1">75</text>
<text x="2064.2" y="2279" font-size="64" font-family="'Liberation Serif', serif" fill="#000" text-anchor="middle" textLength="46" lengthAdjust="spacingAndGlyphs" stroke="#000" stroke-width="1.1">80</text>
<text x="2243.0" y="2279" font-size="64" font-family="'Liberation Serif', serif" fill="#000" text-anchor="middle" textLength="46" lengthAdjust="spacingAndGlyphs" stroke="#000" stroke-width="1.1">85</text>
<text x="859.2" y="2383.7" font-size="66" font-family="'Liberation Serif', serif" fill="#000" textLength="953.3" lengthAdjust="spacingAndGlyphs" >Sound pressure level (dB SPL)</text>
<text x="1277.2" y="2478" font-size="70" font-family="'Liberation Serif', serif" fill="#000" font-weight="bold" textLength="111.3" lengthAdjust="spacingAndGlyphs" >(b)</text>
<defs>
<clipPath id="pc"><rect x="15.5" y="15.5" width="1476.5" height="908"/></clipPath>
<filter id="pb" x="-2%" y="-2%" width="104%" height="104%"><feGaussianBlur stdDeviation="2.6"/></filter>
<filter id="pb2" x="-5%" y="-5%" width="110%" height="110%"><feGaussianBlur stdDeviation="7"/></filter>
<filter id="pb4" x="-40%" y="-80%" width="180%" height="260%"><feGaussianBlur stdDeviation="38"/></filter>
<filter id="pb3" x="-20%" y="-20%" width="140%" height="140%"><feGaussianBlur stdDeviation="14"/></filter>
<radialGradient id="heat" gradientUnits="userSpaceOnUse" cx="-74" cy="0" fx="0" fy="0" r="600" gradientTransform="translate(575 345) scale(1.2 0.94)"><stop offset="0" stop-color="#ffff00" stop-opacity="0.62"/><stop offset="0.19" stop-color="#fff000" stop-opacity="0.62"/><stop offset="0.26" stop-color="#ffd700" stop-opacity="0.60"/><stop offset="0.385" stop-color="#ff8200" stop-opacity="0.56"/><stop offset="0.50" stop-color="#ff2020" stop-opacity="0.52"/><stop offset="0.625" stop-color="#a800a0" stop-opacity="0.36"/><stop offset="0.73" stop-color="#3030ff" stop-opacity="0.24"/><stop offset="0.9" stop-color="#1010c0" stop-opacity="0"/></radialGradient>
<radialGradient id="wallr" gradientUnits="userSpaceOnUse" cx="-74" cy="0" fx="0" fy="0" r="600" gradientTransform="translate(575 345) scale(1.2 0.94)"><stop offset="0" stop-color="#b8b8be"/><stop offset="0.5" stop-color="#b6b6be"/><stop offset="0.68" stop-color="#9696c2"/><stop offset="0.85" stop-color="#8080c8"/><stop offset="1" stop-color="#7e7ec8"/></radialGradient>
<radialGradient id="floorr" gradientUnits="userSpaceOnUse" cx="0" cy="0" r="1" gradientTransform="translate(360 760) scale(420 260)"><stop offset="0" stop-color="#91919c"/><stop offset="0.5" stop-color="#7c7c88"/><stop offset="1" stop-color="#5c5c6c"/></radialGradient>
<linearGradient id="pandk" gradientUnits="userSpaceOnUse" x1="800" y1="0" x2="925" y2="0"><stop offset="0" stop-color="#200010" stop-opacity="0"/><stop offset="1" stop-color="#200018" stop-opacity="0.75"/></linearGradient>
<linearGradient id="floorg" x1="0" y1="0" x2="1" y2="0"><stop offset="0" stop-color="#5a5a6a"/><stop offset="0.3" stop-color="#74747f"/><stop offset="0.6" stop-color="#8a8a96"/><stop offset="1" stop-color="#777783"/></linearGradient>
<linearGradient id="poleg" gradientUnits="userSpaceOnUse" x1="1290" y1="400" x2="1420" y2="430"><stop offset="0" stop-color="#a5a5cf"/><stop offset="0.3" stop-color="#b4b4da"/><stop offset="0.7" stop-color="#8c8cba"/><stop offset="1" stop-color="#5e5e92"/></linearGradient>
<linearGradient id="clothg" gradientUnits="userSpaceOnUse" x1="600" y1="590" x2="800" y2="923"><stop offset="0" stop-color="#1a1430"/><stop offset="0.35" stop-color="#141446"/><stop offset="0.7" stop-color="#1c1c28"/><stop offset="1" stop-color="#303030"/></linearGradient>
<linearGradient id="chl" gradientUnits="userSpaceOnUse" x1="420" y1="640" x2="620" y2="923"><stop offset="0" stop-color="#b9b0ee"/><stop offset="0.5" stop-color="#e6e4fa"/><stop offset="1" stop-color="#ffffff"/></linearGradient>
<linearGradient id="wallg" x1="0" y1="0" x2="1" y2="0"><stop offset="0" stop-color="#7c7ccb"/><stop offset="0.25" stop-color="#8884cc"/><stop offset="1" stop-color="#9a8cc4"/></linearGradient>
<linearGradient id="clut" gradientUnits="userSpaceOnUse" x1="900" y1="0" x2="1150" y2="0"><stop offset="0" stop-color="#e9bfd0"/><stop offset="0.5" stop-color="#e6cfe2"/><stop offset="1" stop-color="#bdb6ee"/></linearGradient>
<linearGradient id="arm2g" gradientUnits="userSpaceOnUse" x1="830" y1="20" x2="1050" y2="400"><stop offset="0" stop-color="#cdbeec"/><stop offset="0.5" stop-color="#dcc0e0"/><stop offset="1" stop-color="#f0c2cc"/></linearGradient>
<linearGradient id="lowcab" gradientUnits="userSpaceOnUse" x1="880" y1="0" x2="1140" y2="0"><stop offset="0" stop-color="#a07eb2"/><stop offset="0.45" stop-color="#8c7abe"/><stop offset="1" stop-color="#7e7ecc"/></linearGradient>
<linearGradient id="trayg" x1="0" y1="0" x2="1" y2="0"><stop offset="0" stop-color="#6c68c0"/><stop offset="0.55" stop-color="#7e68b4"/><stop offset="1" stop-color="#c06a90"/></linearGradient>
<linearGradient id="trayg2" x1="0" y1="0" x2="1" y2="0"><stop offset="0" stop-color="#8078c8"/><stop offset="0.55" stop-color="#9474b8"/><stop offset="1" stop-color="#cc7494"/></linearGradient>
<linearGradient id="colA" gradientUnits="userSpaceOnUse" x1="0" y1="110" x2="0" y2="780"><stop offset="0" stop-color="#aaaadc"/><stop offset="0.45" stop-color="#a0a0d6"/><stop offset="0.7" stop-color="#7676c0"/><stop offset="1" stop-color="#6868b0"/></linearGradient>
<linearGradient id="poledk" gradientUnits="userSpaceOnUse" x1="0" y1="250" x2="0" y2="850"><stop offset="0" stop-color="#505090" stop-opacity="0"/><stop offset="0.5" stop-color="#505090" stop-opacity="0.42"/><stop offset="1" stop-color="#585888" stop-opacity="0.5"/></linearGradient>
</defs>
<g transform="translate(770 2530) scale(0.98544)">
<rect x="6" y="12" width="1487" height="914" fill="#fff" stroke="#7a7a7a" stroke-width="3.4"/>
<g clip-path="url(#pc)">
<g filter="url(#pb)">
<rect x="0" y="0" width="1512" height="934" fill="url(#wallr)"/>
<polygon points="16,300 40,270 75,235 95,260 102,330 98,445 60,450 16,455" fill="rgb(104,96,172)" />
<polygon points="74,232 96,258 103,330 100,442 76,442 72,330" fill="rgb(58,30,96)" />
<polygon points="10,95 50,108 70,150 82,190 75,235 40,275 20,305 10,305" fill="rgb(22,20,92)" />
<polygon points="10,10 30,10 34,40 22,60 10,60" fill="rgb(15,15,70)" />
<polygon points="82,10 95,10 115,190 103,190" fill="rgb(72,62,146)" />
<polyline points="115,190 70,240 32,285 22,330" fill="none" stroke="rgb(178,168,226)" stroke-width="6" stroke-linecap="round" stroke-linejoin="round" />
<polygon points="445,19 585,19 575,38 545,55 475,50 450,35" fill="rgb(105,70,120)" />
<ellipse cx="510" cy="66" rx="38" ry="33" fill="rgb(95,45,75)" />
<polygon points="428,59 470,50 472,62 431,71" fill="rgb(235,215,235)" />
<polygon points="560,48 580,42 631,65 625,76 565,60" fill="rgb(235,215,235)" />
<ellipse cx="510" cy="108" rx="10" ry="5" fill="rgb(250,230,240)" />
<polygon points="806,40 860,160 921,290 916,330 905,467 893,562 840,566 750,562 750,400 742,185 765,185 790,110" fill="rgb(22,14,30)" />
<polygon points="742,10 806,10 806,42 792,110 770,180 745,192 700,192 655,178 648,142 688,120 718,62" fill="rgb(225,222,240)" />
<polyline points="225,486 300,490 384,494" fill="none" stroke="rgb(25,8,16)" stroke-width="6" stroke-linecap="round" stroke-linejoin="round" />
<polygon points="225,494 392,498 392,560 225,545" fill="rgb(120,120,126)" />
<polygon points="10,512 120,512 225,540 392,556 400,650 90,715 10,700" fill="rgb(44,44,92)" />
<polygon points="10,540 200,520 210,600 10,640" fill="rgb(40,40,70)" />
<polyline points="90,715 395,652" fill="none" stroke="rgb(15,15,40)" stroke-width="4" stroke-linecap="round" stroke-linejoin="round" />
<polygon points="150,506 235,500 300,505 305,535 160,545" fill="rgb(28,18,56)" />
<polygon points="225,500 300,498 300,520 240,525" fill="rgb(50,10,20)" />
<polygon points="700,420 838,418 846,446 720,452" fill="rgb(228,224,235)" />
<polygon points="378,520 400,470 470,440 560,430 660,440 740,480 790,540 800,585 760,580 735,572 700,585 640,578 560,590 500,612 470,630 445,608 410,600 385,570" fill="rgb(232,228,225)" />
<polygon points="470,652 505,612 600,592 670,575 720,607 760,610 790,600 815,615 920,765 1015,865 1060,930 640,930 636,830 590,767 530,702" fill="url(#clothg)" />
</g>
<g filter="url(#pb)">
<polygon points="458,268 489,243 582,255 591,292 551,348 520,379 465,397 397,388 366,348 372,299 412,280" fill="rgb(34,40,34)" />
<polygon points="628,305 705,305 715,410 644,428 625,367" fill="rgb(60,62,56)" />
<polygon points="674,194 745,187 733,262 721,416 705,419 705,305 671,255" fill="rgb(120,118,112)" filter="url(#pb2)"/>
<polygon points="480,166 508,157 557,157 588,178 597,225 582,255 489,249 471,225 468,194" fill="rgb(125,105,100)" />
<polygon points="495,160 557,158 586,181 570,203 520,191 495,178" fill="rgb(232,215,228)" />
<ellipse cx="492" cy="198" rx="8" ry="6" fill="rgb(40,30,30)" />
<polyline points="375,299 421,280 471,255" fill="none" stroke="rgb(190,190,170)" stroke-width="9" stroke-linecap="round" stroke-linejoin="round" />
<polygon points="372,379 452,391 508,373 570,367 644,404 644,428 551,441 465,444 397,434 369,410" fill="rgb(205,205,190)" />
<polygon points="607,203 668,194 674,240 647,292 631,348 650,410 613,428 551,367 588,305 603,255" fill="rgb(225,225,215)" />
</g>
<rect x="0" y="0" width="1512" height="934" fill="url(#heat)"/>
<ellipse cx="570" cy="105" rx="250" ry="85" fill="#e8203c" opacity="0.34" filter="url(#pb4)"/>
<polygon points="806,40 860,160 921,290 916,330 905,467 893,562 800,566 800,60" fill="url(#pandk)" />
<g filter="url(#pb)">
<polygon points="863,10 1068,10 1062,103 931,107 926,142" fill="rgb(26,26,100)" />
<polygon points="1068,10 1240,10 1224,100 1062,103" fill="rgb(92,92,146)" />
<polygon points="1105,20 1165,22 1165,32 1105,30" fill="rgb(30,30,80)" />
<polygon points="1224,10 1500,10 1500,930 1224,930" fill="rgb(98,98,150)" />
<polygon points="931,107 1290,104 1290,470 931,470" fill="rgb(190,190,246)" />
<polygon points="931,107 1232,104 1232,168 931,168" fill="rgb(206,206,252)" />
<polygon points="966,168 1185,168 1172,322 1010,322 985,300" fill="rgb(176,176,234)" />
<polygon points="1036,282 1166,280 1150,388 1036,388" fill="rgb(200,200,250)" />
<polygon points="931,322 1150,388 1150,470 931,470" fill="rgb(150,142,214)" />
<polyline points="1062,288 1082,290" fill="none" stroke="rgb(30,30,80)" stroke-width="5" stroke-linecap="round" stroke-linejoin="round" />
<polyline points="985,132 1000,130" fill="none" stroke="rgb(60,60,120)" stroke-width="3" stroke-linecap="round" stroke-linejoin="round" />
<polyline points="1160,235 1172,236" fill="none" stroke="rgb(30,30,80)" stroke-width="5" stroke-linecap="round" stroke-linejoin="round" />
<polygon points="900,330 960,330 1010,322 1100,335 1156,388 1150,470 1040,560 900,560" fill="url(#clut)" />
<polyline points="1000,392 1080,385" fill="none" stroke="rgb(40,30,80)" stroke-width="5" stroke-linecap="round" stroke-linejoin="round" />
<polyline points="950,425 1005,447" fill="none" stroke="rgb(60,40,90)" stroke-width="5" stroke-linecap="round" stroke-linejoin="round" />
<polyline points="925,380 960,392" fill="none" stroke="rgb(70,40,90)" stroke-width="4" stroke-linecap="round" stroke-linejoin="round" />
<polyline points="1040,420 1085,428" fill="none" stroke="rgb(80,60,110)" stroke-width="4" stroke-linecap="round" stroke-linejoin="round" />
<polygon points="806,10 863,10 927,150 993,280 1058,352 1075,400 1040,425 985,385 921,292 860,160 806,42" fill="url(#arm2g)" />
<polygon points="870,467 1140,467 1140,720 1000,720 900,600 880,560" fill="url(#lowcab)" />
<polygon points="1066,467 1215,467 1190,640 1160,800 1066,800" fill="rgb(116,116,194)" />
<polygon points="884,330 968,330 975,420 955,520 935,552 880,552 880,470" fill="rgb(226,192,208)" />
<polyline points="890,455 915,475 935,520" fill="none" stroke="rgb(40,20,60)" stroke-width="6" stroke-linecap="round" stroke-linejoin="round" />
<polyline points="900,385 925,400" fill="none" stroke="rgb(60,30,80)" stroke-width="5" stroke-linecap="round" stroke-linejoin="round" />
<polyline points="925,345 955,350" fill="none" stroke="rgb(70,40,90)" stroke-width="5" stroke-linecap="round" stroke-linejoin="round" />
<ellipse cx="905" cy="495" rx="14" ry="10" fill="rgb(250,225,232)" />
<ellipse cx="938" cy="440" rx="9" ry="7" fill="rgb(250,228,236)" />
<polygon points="1229,107 1339,107 1309,267 1274,363 1240,516 1217,630 1198,764 1152,783 1145,451 1156,382 1190,298 1225,210" fill="url(#colA)" />
<polyline points="1231,111 1227,210 1193,298 1158,382 1148,451" fill="none" stroke="rgb(205,205,244)" stroke-width="5" stroke-linecap="round" stroke-linejoin="round" />
<polygon points="1274,363 1309,363 1259,573 1209,764 1194,764 1229,554" fill="rgb(34,34,96)" />
<polygon points="1179,267 1202,267 1160,367 1148,367" fill="rgb(40,40,100)" />
<polyline points="1229,27 1198,42 1229,57 1198,73 1225,88 1190,122 1217,138 1183,153 1213,168" fill="none" stroke="rgb(225,225,245)" stroke-width="5" stroke-linecap="round" stroke-linejoin="round" />
<polyline points="1225,36 1202,52 1225,67 1202,82" fill="none" stroke="rgb(40,40,90)" stroke-width="4" stroke-linecap="round" stroke-linejoin="round" />
<polygon points="1427,321 1496,306 1496,390 1412,390" fill="rgb(128,128,176)" />
<polygon points="1404,390 1496,386 1496,414 1402,418" fill="rgb(28,28,84)" />
<polygon points="1427,418 1496,414 1496,802 1343,802" fill="rgb(108,108,164)" />
<polyline points="1423,420 1383,535 1353,649 1324,749" fill="none" stroke="rgb(52,52,110)" stroke-width="6" stroke-linecap="round" stroke-linejoin="round" />
<polyline points="1430,420 1390,535 1360,649 1331,749" fill="none" stroke="rgb(158,158,208)" stroke-width="11" stroke-linecap="round" stroke-linejoin="round" />
<polyline points="1366,529 1400,534" fill="none" stroke="rgb(30,30,80)" stroke-width="5" stroke-linecap="round" stroke-linejoin="round" />
<polyline points="1347,590 1381,599" fill="none" stroke="rgb(30,30,80)" stroke-width="5" stroke-linecap="round" stroke-linejoin="round" />
<polygon points="1297,741 1343,745 1339,768 1295,764" fill="rgb(32,32,88)" />
<polygon points="1145,802 1496,787 1496,936 1083,936" fill="rgb(112,112,150)" />
<polygon points="1389,802 1496,787 1496,936 1427,936" fill="rgb(92,92,134)" />
<polygon points="1400,8 1496,8 1496,160 1462,267 1431,390 1400,535 1351,726 1320,840 1290,890 1171,890 1198,821 1244,649 1290,458 1343,267 1381,115" fill="url(#poleg)" />
<polygon points="1400,8 1496,8 1496,160 1462,267 1431,390 1400,535 1351,726 1320,840 1290,890 1171,890 1198,821 1244,649 1290,458 1343,267 1381,115" fill="url(#poledk)" />
<polygon points="1171,890 1290,890 1259,936 1141,936" fill="rgb(120,120,160)" />
<polygon points="1148,783 1194,781 1190,816 1145,814" fill="rgb(36,36,92)" />
<ellipse cx="1324" cy="231" rx="11" ry="6" fill="rgb(240,240,250)" />
<ellipse cx="1303" cy="315" rx="10" ry="6" fill="rgb(240,240,250)" />
<ellipse cx="1162" cy="489" rx="10" ry="8" fill="rgb(240,240,250)" />
<polygon points="1146,516 1198,512 1198,525 1146,529" fill="rgb(238,238,250)" />
<polygon points="1141,546 1175,544 1175,561 1141,562" fill="rgb(30,30,85)" />
<polygon points="881,644 966,660 1064,712 991,728 921,702" fill="rgb(168,168,236)" />
<polygon points="991,728 1064,712 1141,717 1151,877 1106,877" fill="rgb(92,92,132)" />
<ellipse cx="122" cy="478" rx="112" ry="38" fill="url(#trayg)" />
<ellipse cx="120" cy="470" rx="100" ry="27" fill="url(#trayg2)" />
<polyline points="22,500 120,510 200,497 232,478" fill="none" stroke="rgb(176,168,230)" stroke-width="4" stroke-linecap="round" stroke-linejoin="round" />
<polyline points="88,448 150,440 212,437" fill="none" stroke="rgb(246,214,238)" stroke-width="6" stroke-linecap="round" stroke-linejoin="round" />
<polyline points="165,492 200,478 222,464" fill="none" stroke="rgb(240,200,225)" stroke-width="5" stroke-linecap="round" stroke-linejoin="round" />
<polygon points="10,700 90,715 400,650 420,640 520,740 640,930 10,930" fill="url(#floorr)" />
<polygon points="16,686 76,686 76,702 16,704" fill="rgb(245,245,250)" />
<polygon points="16,704 80,702 84,716 16,716" fill="rgb(20,20,30)" />
<polygon points="16,890 33,888 33,908 16,908" fill="rgb(240,240,250)" />
<polygon points="372,672 400,668 402,696 376,700" fill="rgb(70,70,130)" />
<polygon points="400,640 425,630 480,667 530,707 590,767 635,827 645,932 560,932 500,787 450,707 400,667" fill="url(#chl)" />
<polygon points="816,617 826,612 886,653 991,747 1066,827 1156,932 1076,932 1016,867 921,767" fill="rgb(212,212,246)" />
<polyline points="540,687 625,772 700,847 756,902" fill="none" stroke="rgb(210,210,225)" stroke-width="4" stroke-linecap="round" stroke-linejoin="round" />
<polyline points="756,902 786,932" fill="none" stroke="rgb(210,210,225)" stroke-width="4" stroke-linecap="round" stroke-linejoin="round" />
<polyline points="801,632 906,757 996,857 1044,927" fill="none" stroke="rgb(215,215,230)" stroke-width="4" stroke-linecap="round" stroke-linejoin="round" />
</g>
</g>
<rect x="15.5" y="14.5" width="1476.5" height="4" fill="#c8c4ee" opacity="0.9"/>
<defs><linearGradient id="cc" x1="0" y1="0" x2="1" y2="0"><stop offset="0" stop-color="#000"/><stop offset="0.03" stop-color="#00000c"/><stop offset="0.245" stop-color="#1414ff"/><stop offset="0.375" stop-color="#80008a"/><stop offset="0.50" stop-color="#e80000"/><stop offset="0.637" stop-color="#ff8000"/><stop offset="0.755" stop-color="#ffff00"/><stop offset="0.9" stop-color="#f8f8a0"/><stop offset="1" stop-color="#fdfdf4"/></linearGradient><linearGradient id="cs" x1="0" y1="0" x2="0" y2="1"><stop offset="0" stop-color="#000" stop-opacity="0.5"/><stop offset="0.1" stop-color="#000" stop-opacity="0"/><stop offset="0.88" stop-color="#000" stop-opacity="0"/><stop offset="1" stop-color="#000" stop-opacity="0.55"/></linearGradient></defs>
<rect x="11.2" y="929.5" width="1488.7" height="173.5" fill="#e4e6ea" stroke="#777" stroke-width="3.2"/>
<rect x="13.2" y="931.1" width="1484.7" height="11.7" fill="#8a8ad0"/>
<rect x="13.2" y="942.7" width="1484.7" height="13.2" fill="#e8edf5"/>
<rect x="13.2" y="955.9" width="1480.7" height="124.8" fill="#0a0a0a"/>
<rect x="15.2" y="966.1" width="1478.6" height="103.5" fill="url(#cc)"/>
<rect x="15.2" y="966.1" width="1478.6" height="103.5" fill="url(#cs)"/>
<rect x="13.2" y="1081.7" width="1484.7" height="19.3" fill="#dedfdc"/>
<text x="55.3" y="1043.2" font-size="66" font-family="'Liberation Serif', serif" fill="#fff" textLength="67.5" lengthAdjust="spacingAndGlyphs">40</text>
<text x="493.2" y="1043.2" font-size="66" font-family="'Liberation Serif', serif" fill="#fff" textLength="70.0" lengthAdjust="spacingAndGlyphs">45</text>
<text x="932.2" y="1044.2" font-size="63" font-family="'Liberation Sans', sans-serif" fill="#fff" textLength="69.8" lengthAdjust="spacingAndGlyphs">50</text>
<text x="1372.5" y="1044.2" font-size="63" font-family="'Liberation Sans', sans-serif" fill="#000" textLength="68.0" lengthAdjust="spacingAndGlyphs">55</text>
</g>
<text x="123.6" y="2945" font-size="67" font-family="'Liberation Serif', serif" fill="#000" textLength="528.5" lengthAdjust="spacingAndGlyphs" >Frequency range</text>
<text x="190.7" y="3065.3" font-size="67" font-family="'Liberation Serif', serif" fill="#000" textLength="409.6" lengthAdjust="spacingAndGlyphs" >3 kHz–6 kHz</text>
<text x="991.1" y="3685" font-size="66" font-family="'Liberation Serif', serif" fill="#000" textLength="951.3" lengthAdjust="spacingAndGlyphs" >Sound pressure level (dB SPL)</text>
<text x="1328.2" y="3796.8" font-size="70" font-family="'Liberation Serif', serif" fill="#000" font-weight="bold" textLength="98.4" lengthAdjust="spacingAndGlyphs" >(c)</text>
</svg>
</body></html>
